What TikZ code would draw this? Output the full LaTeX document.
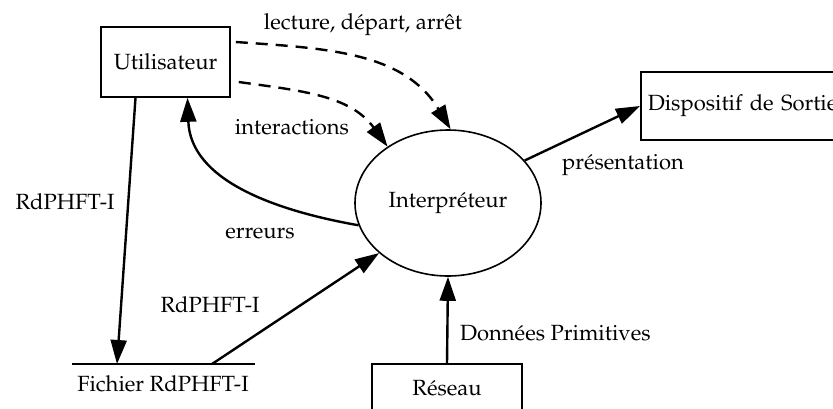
\documentclass[tikz,border=0pt]{standalone}
\usepackage[T1]{fontenc}
\usepackage{mathpazo}
\usetikzlibrary{arrows.meta,shapes.geometric}

\begin{document}
\begin{tikzpicture}[x=0.5pt,y=-0.5pt,font=\fontsize{11}{13}\selectfont,
    box/.style={draw, line width=0.8pt, inner sep=0pt},
    flow/.style={line width=1.2pt, -{Triangle[length=12pt,width=8pt]}},
    ctrl/.style={flow, dashed, dash pattern=on 6pt off 4pt}]
      \useasboundingbox (0,0) rectangle (833,408);

      % Processes and stores
      \node[box, minimum width=64.5pt, minimum height=35pt] (user) at (165.5,62) {Utilisateur};
      \node[box, ellipse, minimum width=93pt, minimum height=73pt] (interp) at (448,203) {Interpr\'eteur};
      \node[box, anchor=west, text width=120pt, align=left, inner xsep=3.5pt, minimum height=34pt] (disp) at (640,106) {Dispositif de Sortie};
      \node[box, minimum width=75pt, minimum height=24pt] (net) at (447,388) {R\'eseau};

      % File (data store)
      \node[minimum width=91.5pt, inner sep=0pt] (file) at (163.5,364) {};
      \draw[line width=1.2pt] (file.west) -- (file.east);
      \coordinate (filein) at (117,364);
      \coordinate (fileout) at (212,364);
      \node (filelbl) at (163,384) {Fichier RdPHFT-I};

      % Flows
      \draw[flow] ([xshift=-15pt]user.south) -- (filein);
      \draw[flow] (fileout) -- (interp.216);
      \draw[flow] (interp.194) to[out=170,in=-88] ([xshift=11pt]user.south);
      \draw[flow] (net.north) -- (interp.south);
      \draw[flow] (interp.29) -- (disp.west);

      % Control flows (dashed)
      \draw[ctrl] ([shift={(2.5pt,10pt)}]user.east) to[out=-4,in=121] (interp.88);
      \draw[ctrl] ([shift={(4pt,-10pt)}]user.east) to[out=-8,in=126] (interp.137);

      % Labels
      \node at (363,25) {lecture, d\'epart, arr\^et};
      \node at (292,127) {interactions};
      \node at (65,202) {RdPHFT-I};
      \node at (260,233) {erreurs};
      \node at (210,305) {RdPHFT-I};
      \node[anchor=west] at (453,333) {Donn\'ees Primitives};
      \node at (623,165) {pr\'esentation};
\end{tikzpicture}
\end{document}
